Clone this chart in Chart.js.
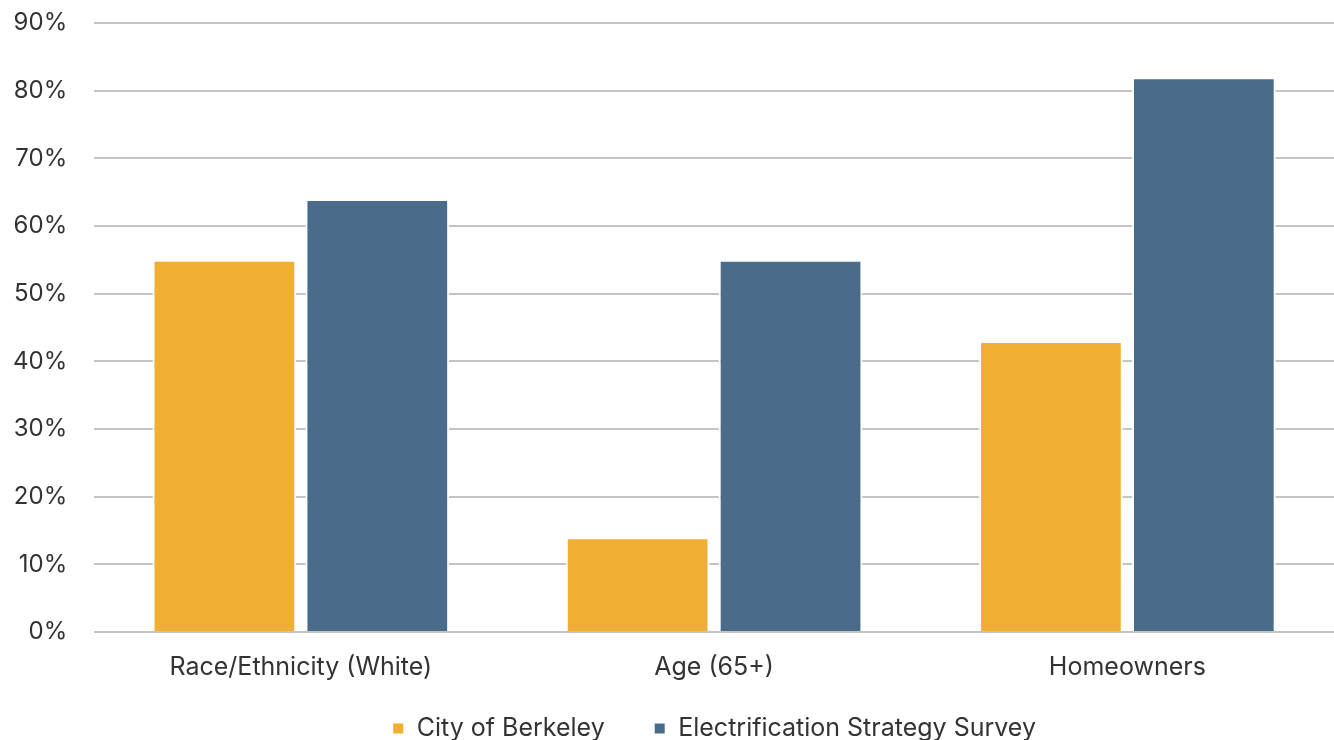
<!DOCTYPE html>
<html>
<head>
<meta charset="utf-8">
<script src="https://cdn.jsdelivr.net/npm/chart.js@4.4.0/dist/chart.umd.min.js"></script>
<style>
  html, body { margin: 0; padding: 0; background: #fff; }
  #wrap { width: 1334px; height: 740px; }
</style>
</head>
<body>
<div id="wrap"><canvas id="grafico" width="1334" height="740"></canvas></div>
<script>
// datos
const categorias = ["Race/Ethnicity (White)", "Age (65+)", "Homeowners"];
const cityBerkeley = [55, 14, 43];
const encuesta = [64, 55, 82];
const nombresSeries = ["City of Berkeley", "Electrification Strategy Survey"];

const colores = ["#F0AE33", "#4A6C8A"];
const fuente = "Inter, 'Liberation Sans', sans-serif";

// la leyenda usa padding grande para separar los items en horizontal,
// se sube un poco y se centra sobre el area del grafico
const moverLeyenda = {
    id: 'moverLeyenda',
    afterLayout(chart) {
        const lg = chart.legend;
        const dx = (chart.chartArea.left + chart.chartArea.right) / 2 - (lg.left + lg.right) / 2;
        lg.top -= 15;
        lg.bottom -= 15;
        lg.left += dx;
        lg.right += dx;
    }
};

const ctx = document.getElementById('grafico').getContext('2d');
new Chart(ctx, {
    type: 'bar',
    data: {
        labels: categorias,
        datasets: [
            {
                label: nombresSeries[0],
                data: cityBerkeley,
                backgroundColor: colores[0],
                borderColor: '#fff',
                borderWidth: 2,
                categoryPercentage: 0.74,
                barPercentage: 0.94
            },
            {
                label: nombresSeries[1],
                data: encuesta,
                backgroundColor: colores[1],
                borderColor: '#fff',
                borderWidth: 2,
                categoryPercentage: 0.74,
                barPercentage: 0.94
            }
        ]
    },
    options: {
        responsive: false,
        animation: false,
        layout: { padding: { top: 23, left: 13, right: 0, bottom: -26 } },
        scales: {
            x: {
                grid: { display: false, tickLength: 20 },
                border: { display: false },
                ticks: { color: '#333', padding: 0, font: { family: fuente, size: 25 } }
            },
            y: {
                min: 0,
                max: 90,
                grid: { color: '#c4c4c4', lineWidth: 2, tickLength: 27, tickColor: 'rgba(0,0,0,0)' },
                border: { display: false },
                ticks: {
                    stepSize: 10,
                    color: '#333',
                    padding: 0,
                    font: { family: fuente, size: 24 },
                    callback: v => v + '%'
                }
            }
        },
        plugins: {
            legend: {
                position: 'bottom',
                labels: {
                    boxWidth: 12,
                    boxHeight: 12,
                    padding: 49,
                    color: '#333',
                    font: { family: fuente, size: 25 }
                }
            },
            tooltip: { enabled: false }
        }
    },
    plugins: [moverLeyenda]
});
</script>
</body>
</html>
